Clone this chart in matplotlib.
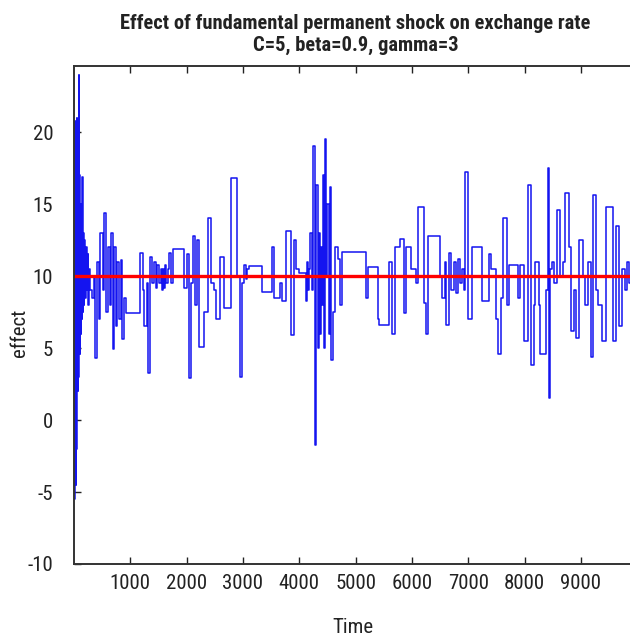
import matplotlib.pyplot as plt
from matplotlib import font_manager

# step series: time where each level starts, and the level
times = [0, 6, 12, 18, 24, 30, 36, 42, 48, 54, 60, 66, 72, 78, 84, 90, 96, 102, 110, 118,
         126, 134, 142, 152, 162, 172, 182, 195, 210, 225, 240, 255, 270, 290, 320, 350,
         380, 410, 440, 470, 520, 540, 575, 600, 630, 655, 690, 715, 740, 770, 800, 830,
         860, 890, 930, 1170, 1220, 1250, 1300, 1320, 1350, 1390, 1420, 1450, 1480, 1510,
         1540, 1560, 1580, 1600, 1620, 1640, 1660, 1690, 1720, 1750,
         1950, 2000, 2040, 2070, 2110, 2150, 2180, 2220, 2300, 2380, 2440, 2480, 2520,
         2590, 2660, 2780, 2900, 2950, 2990, 3020, 3050, 3080,
         3110, 3330, 3510, 3545, 3660, 3700, 3760, 3850, 3900, 3940, 3990, 4110, 4130,
         4150, 4170, 4190, 4220, 4240, 4270, 4300, 4330, 4350, 4365, 4380, 4395, 4420,
         4440, 4455, 4480, 4500, 4520, 4540, 4565, 4590, 4630, 4690, 4720,
         4760, 5190, 5220, 5390, 5420, 5600, 5640, 5700, 5780, 5850, 5900, 5990, 6080,
         6110, 6210, 6250, 6290, 6500, 6540, 6580,
         6610, 6650, 6700, 6740, 6780, 6810, 6850, 6880, 6920, 6950, 7000, 7060, 7240,
         7360, 7400, 7500, 7530, 7580, 7620, 7690, 7720, 7880, 7920, 7990, 8060, 8110,
         8160, 8190, 8250,
         8280, 8380, 8410, 8430, 8450, 8490, 8520, 8570, 8620, 8680, 8720, 8780, 8820,
         8880, 8910, 8960, 9030, 9070, 9120, 9180, 9220, 9260, 9310, 9370, 9450, 9570,
         9620, 9680, 9730, 9790, 9820, 9860, 9900]
effect = [10, -5.5, 20.8, -3, 19, -4.5, 18, -2, 21, 0, 16, 2, 20, 3, 24, 5, 17, 4.6, 15, 6,
          14, 7, 16.9, 7.5, 13, 8, 12.5, 8.5, 12, 9, 11.5, 8, 10.5, 9, 8.5, 10,
          4.3, 11, 7, 13, 9, 14.4, 7.5, 12, 8, 13, 4.9, 12, 6.5, 11, 7, 11.1,
          5.6, 8.5, 7.4, 11.6, 9, 6.5, 9.5, 3.3, 11.3, 9.5, 11, 9.2, 10.8, 9.5,
          10.5, 9, 10.5, 9.2, 10.8, 9.5, 10.5, 11.6, 9.5, 11.9,
          9.2, 11.5, 2.9, 9.5, 12.8, 8, 12.5, 5.1, 7.5, 14, 9.5, 9, 7,
          11.3, 7.8, 16.8, 10, 3, 9.5, 10.8, 9.8, 10.5,
          10.7, 8.9, 12, 8.5, 9.5, 8.3, 13.1, 5.9, 12.5, 10.5, 10.2, 8.3, 11,
          9, 10.5, 13, 9, 19, -1.7, 16.3, 5, 13, 6, 12, 8, 17,
          5, 19.5, 10, 15, 6, 16.2, 4.2, 7.5, 12, 11.2, 8,
          11.7, 8.5, 10.6, 7, 6.6, 11, 6, 12, 12.6, 7.4, 12, 10.5, 9.5,
          14.8, 8.1, 6, 12.8, 10, 8.5, 11,
          6.6, 11.6, 9, 11, 8.8, 11.2, 9.5, 10.5, 9, 17.2, 7, 12, 8.3,
          11.5, 10.5, 7, 4.6, 8.5, 14, 8, 10.8, 8.5, 10.8, 5.5, 16.3, 3.8,
          8, 11, 8,
          4.6, 9, 17.5, 1.5, 10.5, 11, 9.5, 14.6, 10, 11, 15.8, 12, 6.2,
          9, 5.7, 12.5, 10, 8, 11, 4.4, 15.6, 9, 8, 5.5, 14.8, 5.5,
          13.5, 6.5, 10.5, 9, 11, 9.5, 10.5]
steady_state = 10

x_ticks = [1000, 2000, 3000, 4000, 5000, 6000, 7000, 8000, 9000]
y_ticks = [-10, -5, 0, 5, 10, 15, 20]


def have_font(name):
    try:
        font_manager.findfont(name, fallback_to_default=False)
        return True
    except ValueError:
        return False


# a condensed face if there is one, else plain Liberation Sans a bit smaller
font = 'Liberation Sans'
scale = 0.86
for cand in ['Liberation Sans Narrow', 'Roboto Condensed', 'Open Sans Condensed']:
    if have_font(cand):
        font, scale = cand, 1.0
        break
fam = [font, 'DejaVu Sans']

plt.rcParams['axes.unicode_minus'] = False

fig = plt.figure(figsize=(6.3, 6.37), dpi=100)
ax = fig.add_axes([0.1175, 0.1146, 0.894, 0.782])

ax.plot(times, effect, color='#1414f0', lw=1.1, drawstyle='steps-post')
ax.axhline(steady_state, color='#ff0000', lw=2.4)

ax.set_xlim(0, 10000)
ax.set_ylim(-10, 24.6)
ax.set_xticks(x_ticks)
ax.set_yticks(y_ticks)
ax.tick_params(direction='in', length=5, width=1, top=True, right=True,
               labelsize=15 * scale, colors='#222222')
ax.tick_params(axis='x', pad=7)
ax.tick_params(axis='y', pad=15)
for lab in ax.get_xticklabels() + ax.get_yticklabels():
    lab.set_family(fam)
for sp in ax.spines.values():
    sp.set_linewidth(1.4)
    sp.set_color('#333333')

ax.set_title('Effect of fundamental permanent shock on exchange rate\nC=5, beta=0.9, gamma=3',
             family=fam, fontweight='bold', fontsize=14.8 * scale, pad=11, color='#222222',
             linespacing=1.2)
ax.set_xlabel('Time', family=fam, fontsize=15 * scale, color='#222222')
ax.set_ylabel('effect', family=fam, fontsize=15 * scale, color='#222222')
ax.xaxis.set_label_coords(0.4955, -0.108)
ax.yaxis.set_label_coords(-0.080, 0.464)

fig.savefig('out.png', dpi=100)
